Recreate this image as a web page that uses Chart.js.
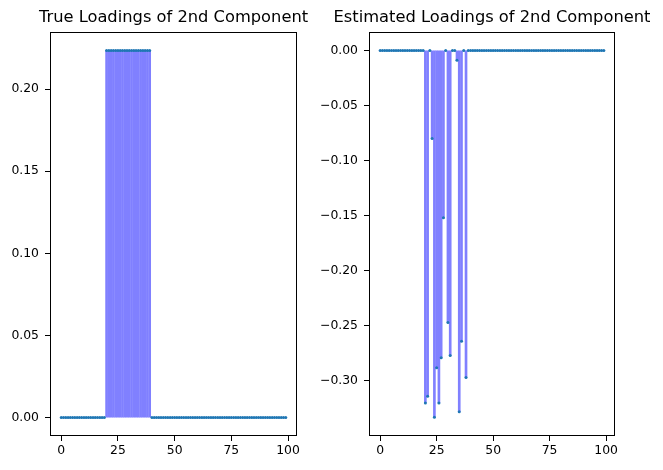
<!DOCTYPE html>
<html>
<head>
<meta charset="utf-8">
<script src="https://cdn.jsdelivr.net/npm/chart.js@4.4.1/dist/chart.umd.min.js"></script>
<style>
  html, body { margin: 0; padding: 0; background: #fff; overflow: hidden; }
  #wrap { position: relative; width: 663px; height: 470px; overflow: hidden; }
  canvas { position: absolute; top: 0; }
</style>
</head>
<body>
<div id="wrap">
  <canvas id="left" width="331" height="470" style="left:0px"></canvas>
  <canvas id="right" width="348" height="470" style="left:315px"></canvas>
</div>
<script>
const TRUE_LOADINGS = [
  0, 0, 0, 0, 0, 0, 0, 0, 0, 0,
  0, 0, 0, 0, 0, 0, 0, 0, 0, 0,
  0.2236, 0.2236, 0.2236, 0.2236, 0.2236, 0.2236, 0.2236, 0.2236, 0.2236, 0.2236,
  0.2236, 0.2236, 0.2236, 0.2236, 0.2236, 0.2236, 0.2236, 0.2236, 0.2236, 0.2236,
  0, 0, 0, 0, 0, 0, 0, 0, 0, 0,
  0, 0, 0, 0, 0, 0, 0, 0, 0, 0,
  0, 0, 0, 0, 0, 0, 0, 0, 0, 0,
  0, 0, 0, 0, 0, 0, 0, 0, 0, 0,
  0, 0, 0, 0, 0, 0, 0, 0, 0, 0,
  0, 0, 0, 0, 0, 0, 0, 0, 0, 0
];
const EST_LOADINGS = [
  0, 0, 0, 0, 0, 0, 0, 0, 0, 0,
  0, 0, 0, 0, 0, 0, 0, 0, 0, 0,
  -0.320, -0.314, 0, -0.080, -0.333, -0.288, -0.320, -0.279, -0.152, 0,
  -0.247, -0.277, 0, 0, -0.009, -0.328, -0.264, 0, -0.297, 0,
  0, 0, 0, 0, 0, 0, 0, 0, 0, 0,
  0, 0, 0, 0, 0, 0, 0, 0, 0, 0,
  0, 0, 0, 0, 0, 0, 0, 0, 0, 0,
  0, 0, 0, 0, 0, 0, 0, 0, 0, 0,
  0, 0, 0, 0, 0, 0, 0, 0, 0, 0,
  0, 0, 0, 0, 0, 0, 0, 0, 0, 0
];
const X_TICKS = [0, 25, 50, 75, 100];
const LEFT_Y_TICKS = [0, 0.05, 0.10, 0.15, 0.20];
const RIGHT_Y_TICKS = [0, -0.05, -0.10, -0.15, -0.20, -0.25, -0.30];

const FONT = "'DejaVu Sans', sans-serif";

// axes box + title centred over the plot area (like matplotlib)
const frame = {
  id: "frame",
  afterDraw(chart, args, opts) {
    const { ctx, chartArea: a } = chart;
    ctx.save();
    ctx.strokeStyle = "#000";
    ctx.lineWidth = 1;
    ctx.strokeRect(a.left + 0.5, a.top + 0.5, a.right - a.left - 1, a.bottom - a.top - 1);
    ctx.fillStyle = "#000";
    ctx.font = "16.3px " + FONT;
    ctx.textAlign = "center";
    ctx.textBaseline = "middle";
    ctx.fillText(opts.text, (a.left + a.right) / 2, 18);
    ctx.restore();
  },
};

const fmt = (v) => (v < 0 ? "\u2212" + Math.abs(v).toFixed(2) : v.toFixed(2));

function stemChart(id, values, title, yMin, yMax, yTicks, yWidth, padRight) {
  const pts = values.map((v, i) => ({ x: i, y: v }));
  return new Chart(document.getElementById(id), {
    type: "bar",
    data: {
      datasets: [
        {
          type: "line",
          data: pts,
          showLine: false,
          pointRadius: 1.5,
          pointBorderWidth: 0,
          pointBackgroundColor: "#1f77b4",
          order: 0,
        },
        {
          type: "bar",
          data: pts,
          backgroundColor: "#8080ff",
          barThickness: 2,
          order: 1,
        },
      ],
    },
    options: {
      responsive: false,
      animation: false,
      devicePixelRatio: 1,
      layout: { padding: { top: 32, right: padRight, left: 0, bottom: 0 } },
      plugins: {
        legend: { display: false },
        tooltip: { enabled: false },
        frame: { text: title },
      },
      scales: {
        x: {
          type: "linear",
          min: -4.95,
          max: 103.95,
          offset: false,
          afterBuildTicks: (s) => { s.ticks = X_TICKS.map((v) => ({ value: v })); },
          afterFit: (s) => { s.height = 34; },
          ticks: { color: "#000", font: { family: FONT, size: 12.4 }, padding: 2, maxRotation: 0 },
          grid: { drawOnChartArea: false, tickLength: 5, tickColor: "#000", offset: false },
          border: { display: false },
        },
        y: {
          type: "linear",
          min: yMin,
          max: yMax,
          afterBuildTicks: (s) => { s.ticks = yTicks.map((v) => ({ value: v })); },
          afterFit: (s) => { s.width = yWidth; },
          ticks: {
            color: "#000",
            font: { family: FONT, size: 12.4 },
            padding: 6,
            callback: (v) => fmt(v),
          },
          grid: { drawOnChartArea: false, tickLength: 5, tickColor: "#000" },
          border: { display: false },
        },
      },
    },
    plugins: [frame],
  });
}

stemChart("left", TRUE_LOADINGS, "True Loadings of 2nd Component", -0.0112, 0.2348, LEFT_Y_TICKS, 50, 34);
stemChart("right", EST_LOADINGS, "Estimated Loadings of 2nd Component", -0.35, 0.0167, RIGHT_Y_TICKS, 54, 48);
</script>
</body>
</html>
